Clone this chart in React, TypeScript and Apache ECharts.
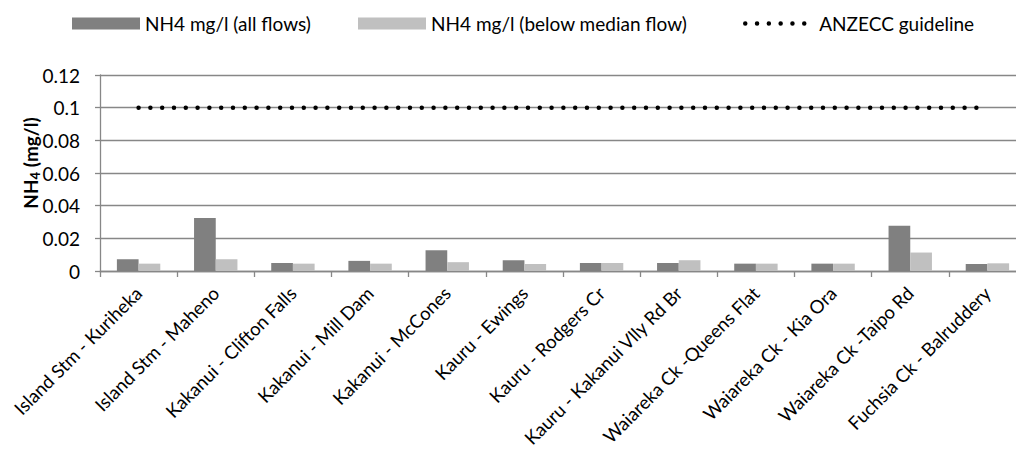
import React, { useEffect, useRef } from "react";
import * as echarts from "echarts";

const categories = [
  "Island Stm - Kuriheka",
  "Island Stm - Maheno",
  "Kakanui - Clifton Falls",
  "Kakanui - Mill Dam",
  "Kakanui - McCones",
  "Kauru - Ewings",
  "Kauru - Rodgers Cr",
  "Kauru - Kakanui Vlly Rd Br",
  "Waiareka Ck -Queens Flat",
  "Waiareka Ck - Kia Ora",
  "Waiareka Ck -Taipo Rd",
  "Fuchsia Ck - Balruddery",
];
const allFlows = [0.0072, 0.0324, 0.0049, 0.0062, 0.0127, 0.0066, 0.0049, 0.0049, 0.0045, 0.0045, 0.0277, 0.0043];
const belowMedian = [0.0045, 0.0072, 0.0045, 0.0045, 0.0054, 0.0043, 0.0049, 0.0066, 0.0045, 0.0045, 0.0113, 0.0047];
const guideline = [0.1, 0.1, 0.1, 0.1, 0.1, 0.1, 0.1, 0.1, 0.1, 0.1, 0.1, 0.1];
const seriesNames = ["NH4 mg/l (all flows)", "NH4 mg/l (below median flow)", "ANZECC guideline"];
const yMin = 0;
const yMax = 0.12;
const yStep = 0.02;

const FONT = "Lato";
const AXIS_GRAY = "#878787";

export default function App() {
  const ref = useRef<HTMLDivElement>(null);
  useEffect(() => {
    if (!ref.current) return;
    const chart = echarts.init(ref.current, null, { renderer: "svg" });
    const legendText = { fontSize: 19, fontFamily: FONT, color: "#000" };
    chart.setOption({
      animation: false,
      textStyle: { fontFamily: FONT },
      legend: [
        {
          data: [seriesNames[0]],
          left: 72,
          top: 14,
          padding: 0,
          itemWidth: 68,
          itemHeight: 12,
          icon: "rect",
          selectedMode: false,
          textStyle: legendText,
        },
        {
          data: [seriesNames[1]],
          left: 358,
          top: 14,
          padding: 0,
          itemWidth: 68,
          itemHeight: 12,
          icon: "rect",
          selectedMode: false,
          textStyle: legendText,
        },
        {
          data: [seriesNames[2]],
          left: 743,
          top: 14,
          padding: 0,
          itemWidth: 68,
          itemHeight: 12,
          selectedMode: false,
          itemStyle: { color: "rgba(0,0,0,0)", opacity: 0, borderWidth: 0 },
          lineStyle: { width: 4.5, type: [0, 11.8], cap: "round", color: "#000" },
          textStyle: { ...legendText, padding: [0, 0, 0, 1] },
        },
      ],
      grid: { left: 100, top: 75, bottom: 183, width: 926, containLabel: false, outerBoundsMode: "none" },
      xAxis: {
        type: "category",
        data: categories,
        axisLine: { show: true, lineStyle: { color: AXIS_GRAY, width: 1.3 } },
        axisTick: { show: true, alignWithLabel: false, length: 6, lineStyle: { color: AXIS_GRAY, width: 1.3 } },
        axisLabel: { interval: 0, rotate: 45, fontSize: 18.5, fontFamily: FONT, color: "#000", margin: 19 },
      },
      yAxis: {
        type: "value",
        min: yMin,
        max: yMax,
        interval: yStep,
        name: "{a|NH}{s|4}{a| (mg/l)}",
        nameLocation: "middle",
        nameRotate: 90,
        nameGap: 59,
        nameMoveOverlap: false,
        nameTextStyle: {
          fontFamily: FONT,
          fontWeight: "bold",
          fontSize: 19,
          color: "#000",
          padding: [0, 0, 0, 20],
          rich: {
            a: { fontFamily: FONT, fontWeight: "bold", fontSize: 19, color: "#000" },
            s: { fontFamily: FONT, fontWeight: "bold", fontSize: 13, color: "#000", padding: [8, 0, 0, 0] },
          },
        },
        axisLine: { show: true, lineStyle: { color: AXIS_GRAY, width: 1.3 } },
        axisTick: { show: true, length: 5, lineStyle: { color: AXIS_GRAY, width: 1.3 } },
        splitLine: { show: true, lineStyle: { color: AXIS_GRAY, width: 1.3 } },
        axisLabel: { fontSize: 19, fontFamily: FONT, color: "#000", margin: 20 },
      },
      series: [
        {
          name: seriesNames[0],
          type: "bar",
          data: allFlows,
          barWidth: 21.7,
          barGap: "0%",
          itemStyle: { color: "#808080" },
        },
        {
          name: seriesNames[1],
          type: "bar",
          data: belowMedian,
          barWidth: 21.7,
          barGap: "0%",
          itemStyle: { color: "#C0C0C0" },
        },
        {
          name: seriesNames[2],
          type: "line",
          data: guideline,
          symbol: "none",
          showSymbol: false,
          z: 5,
          itemStyle: { color: "#000" },
          lineStyle: { color: "#000", width: 4.5, type: [0, 11.8], cap: "round" },
        },
      ],
    });
    return () => chart.dispose();
  }, []);
  return (
    <div
      ref={ref}
      style={{ position: "fixed", left: 0, top: 0, width: 1016, height: 454, background: "#fff" }}
    />
  );
}
